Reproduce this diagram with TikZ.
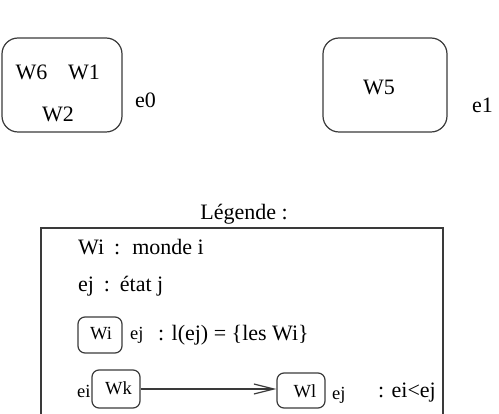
\documentclass[tikz,border=0pt]{standalone}
\usepackage{fontspec}
\setmainfont{Liberation Serif}
\usetikzlibrary{arrows.meta}
\definecolor{linec}{HTML}{3A3A3A}
\begin{document}
\begin{tikzpicture}[x=1pt,y=-1pt,
  txt/.style={anchor=base west,inner sep=0pt,font=\fontsize{22}{26}\selectfont},
  ctxt/.style={anchor=base,inner sep=0pt,font=\fontsize{22}{26}\selectfont},
  stxt/.style={anchor=base west,inner sep=0pt,font=\fontsize{18.5}{22}\selectfont},
  sctxt/.style={anchor=base,inner sep=0pt,font=\fontsize{18.5}{22}\selectfont},
  bigbox/.style={draw=linec,line width=1.2pt,rounded corners=16pt,inner sep=0pt},
  smallbox/.style={draw=linec,line width=1.2pt,rounded corners=7pt,inner sep=0pt}]
\useasboundingbox (0,0) rectangle (499,414);
\clip (0,0) rectangle (499,414);
% state e0
\node[bigbox,minimum width=120pt,minimum height=94pt] (e0box) at (62,85) {};
\node[ctxt] (w6) at (31.5,80) {W6};
\node[ctxt] (w1) at (84,80) {W1};
\node[ctxt] (w2) at (58,122) {W2};
\node[txt] (e0) at (135,108) {e0};
% state e1
\node[bigbox,minimum width=124pt,minimum height=94pt] (e1box) at (385,85) {};
\node[ctxt] (w5) at (379,95) {W5};
\node[txt] (e1) at (472,113) {e1};
% legend
\node[ctxt] (leg) at (244,220) {Légende :};
\draw[linec,line width=1.5pt] (41,440) -- (41,228) -- (443,228) -- (443,440);
\node[txt] (l1) at (78,255) {Wi\hspace{0.45em}:\hspace{0.55em}monde i};
\node[txt] (l2) at (78,292) {ej\hspace{0.45em}:\hspace{0.45em}état j};
\node[smallbox,minimum width=44pt,minimum height=36pt] (wibox) at (100,335) {};
\node[sctxt] (wi) at (101,340) {Wi};
\node[stxt] (l3a) at (130,340) {ej};
\node[txt] (l3) at (158,341) {: l(ej) = \{les Wi\}};
\node[smallbox,minimum width=48pt,minimum height=38pt] (wk) at (116,389) {};
\node[sctxt] (wkt) at (118.5,395) {Wk};
\node[stxt] (ei) at (77,398) {ei};
\node[smallbox,minimum width=48pt,minimum height=35pt] (wl) at (301,390.5) {};
\node[sctxt] (wlt) at (305,398) {Wl};
\node[stxt] (ej) at (332,400) {ej};
\node[txt] (l4) at (378,398) {: ei<ej};
\draw[linec,line width=1.2pt,-{Straight Barb[length=20pt,width=10pt,line width=1.2pt]}] (wk.east) -- (wk.east -| wl.west);
\end{tikzpicture}
\end{document}
